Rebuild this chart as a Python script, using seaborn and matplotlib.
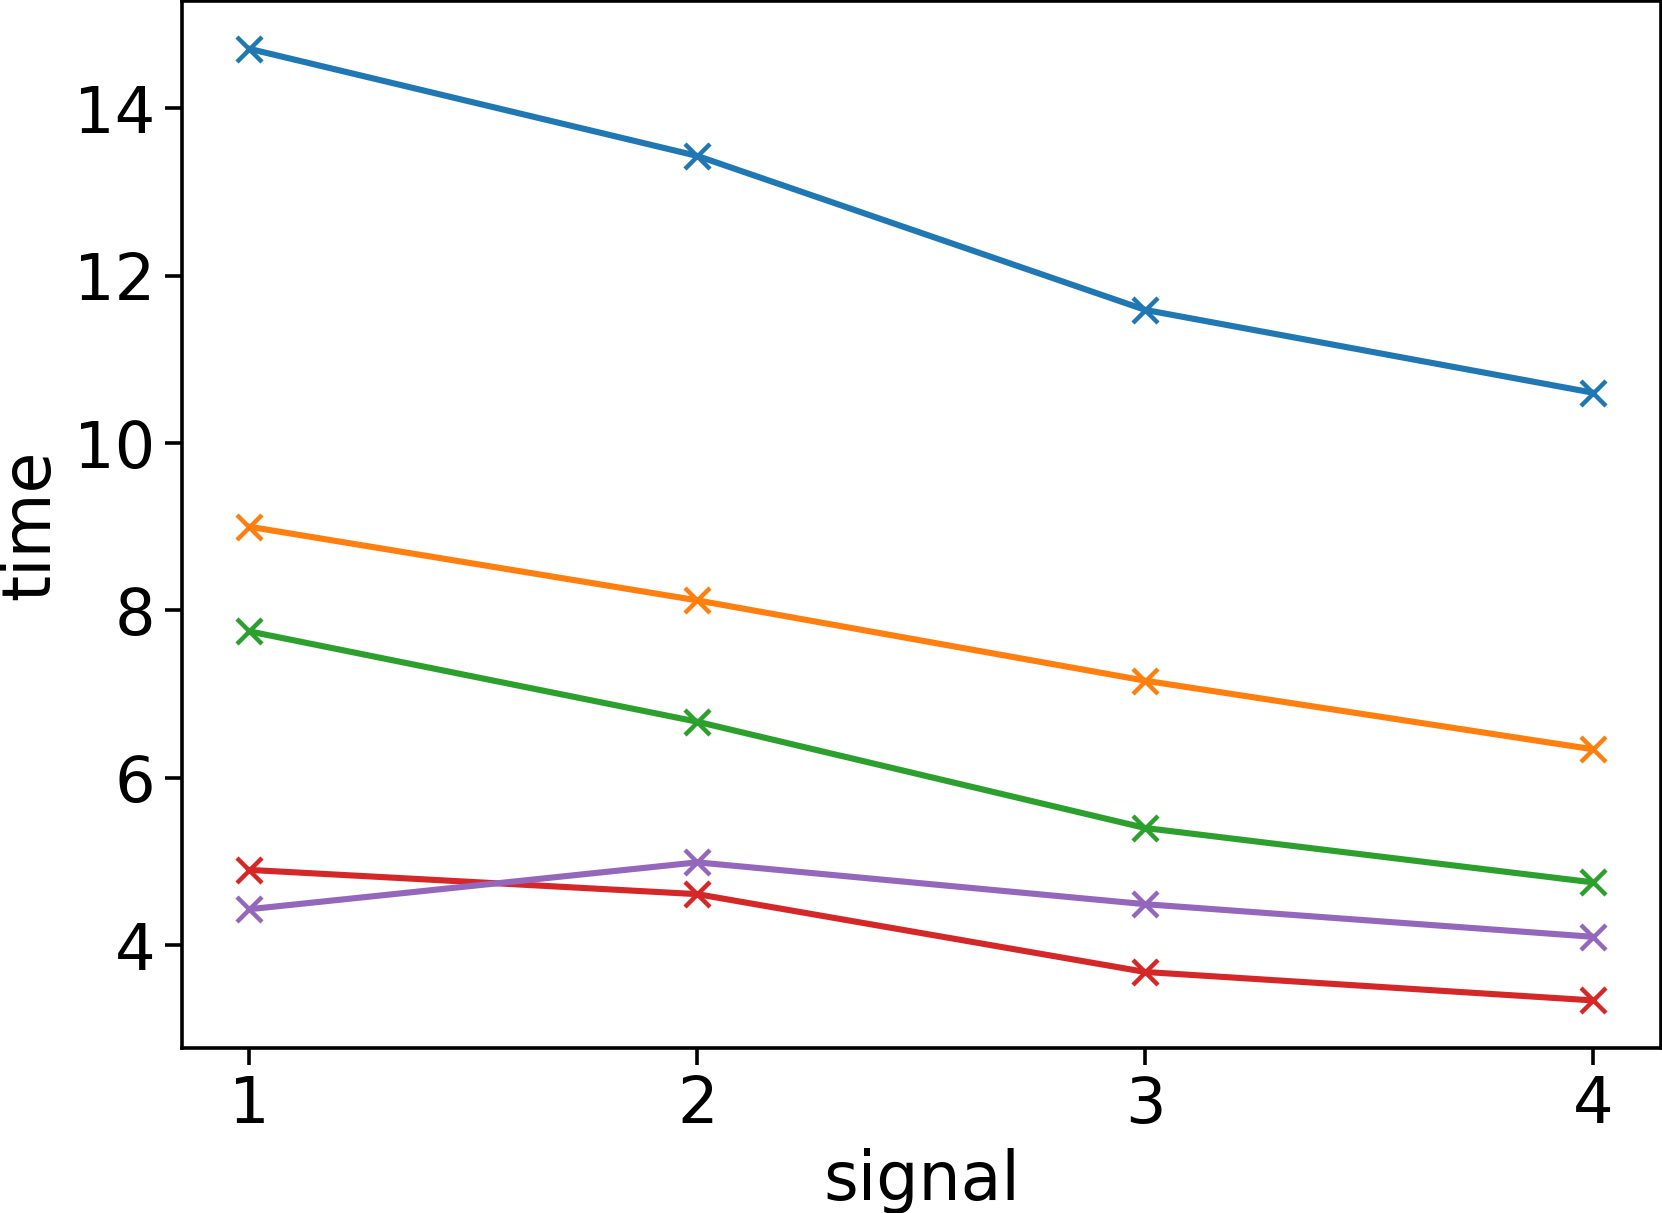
import numpy as np
import pandas as pd
import seaborn as sns
import matplotlib
matplotlib.use("Agg")
import matplotlib.pyplot as plt

signal = [1, 2, 3, 4]
time_a = [14.71, 13.43, 11.59, 10.60]
time_b = [9.00, 8.12, 7.16, 6.34]
time_c = [7.75, 6.67, 5.40, 4.75]
time_d = [4.90, 4.61, 3.68, 3.34]
time_e = [4.43, 4.99, 4.49, 4.10]

series = {"a": time_a, "b": time_b, "c": time_c, "d": time_d, "e": time_e}
df = pd.concat([pd.DataFrame({"signal": signal, "time": v, "run": k}) for k, v in series.items()])

fig, ax = plt.subplots(figsize=(1662 / 200, 1213 / 200), dpi=200)
sns.lineplot(data=df, x="signal", y="time", hue="run", palette="tab10",
             marker="x", markersize=9, markeredgewidth=1.6, linewidth=2.2,
             legend=False, ax=ax)
# seaborn paints marker edges white, which hides the x markers
for line in ax.get_lines():
    line.set_markeredgecolor(line.get_color())
ax.set_xticks(signal)
ax.tick_params(labelsize=23, width=1.3, length=6)
ax.set_xlabel("signal", fontsize=24)
ax.set_ylabel("time", fontsize=24)
for s in ax.spines.values():
    s.set_linewidth(1.3)
fig.subplots_adjust(left=0.1095, right=0.9992, top=0.999, bottom=0.136)
fig.savefig("out.png", dpi=200)
